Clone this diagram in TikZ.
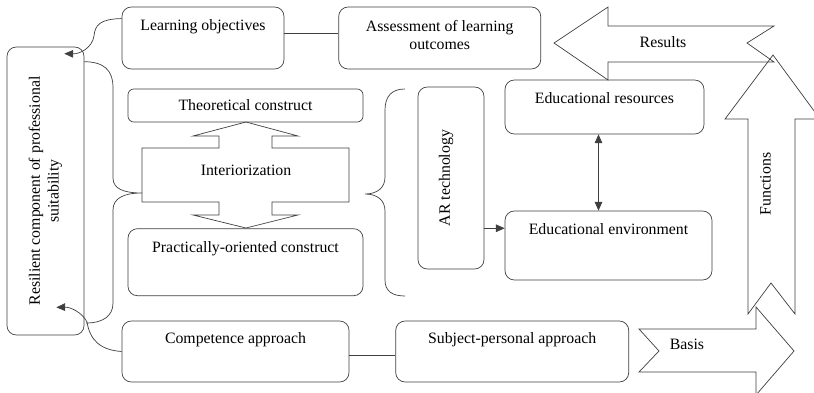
\documentclass[tikz,border=0pt]{standalone}
\usepackage{fontspec}
\setmainfont{Liberation Serif}
\usepackage{tikz}
\usetikzlibrary{arrows.meta, positioning, calc}
\definecolor{frame}{HTML}{3F3F3F}

\begin{document}
\begin{tikzpicture}[
  x=0.03cm, y=-0.03cm,
  every node/.style={font=\fontsize{13.5}{16}\selectfont},
  box/.style={draw=frame, line width=0.6pt, rounded corners=8pt, inner sep=0pt},
  txt/.style={inner sep=0pt, align=center},
  link/.style={draw=frame, line width=0.6pt},
  arr/.style={link, -{Triangle[length=7.5pt, width=6.5pt]}},
  dbl/.style={link, {Triangle[length=7.5pt, width=6.5pt]}-{Triangle[length=7.5pt, width=6.5pt]}},
  block/.style={draw=frame, line width=0.6pt}
]
  \useasboundingbox (0,0) rectangle (814,393);
  \clip (0,0) rectangle (814,393);

  % Left column
  \node[box, minimum width=2.31cm, minimum height=8.64cm] (resil) at (45.5,191) {};
  \node[txt, rotate=90] (resil-t) at (resil.center) {Resilient component of professional\\suitability};

  % Top row
  \node[box, minimum width=4.86cm, minimum height=1.86cm] (lobj) at (203,38) {};
  \node[box, minimum width=6.06cm, minimum height=1.86cm, right=1.62cm of lobj] (assess) {};
  \node[txt, below=0.39cm of lobj.north] (lobj-t) {Learning objectives};
  \node[txt, below=0.39cm of assess.north] (assess-t) {Assessment of learning\\outcomes};

  % Constructs and interiorization
  \node[box, rounded corners=5pt, minimum width=7.05cm, minimum height=0.99cm] (theo) at (245.5,105.5) {Theoretical construct};
  \node[box, minimum width=7.05cm, minimum height=2.01cm, below=3.18cm of theo] (prac) {};
  \node[txt, below=0.39cm of prac.north] (prac-t) {Practically-oriented construct};

  \draw[block] (142,148) -- (219,148) -- (219,136) -- (193,136) -- (246,122)
    -- (298,136) -- (272,136) -- (272,148) -- (349,148) -- (349,202)
    -- (272,202) -- (272,215) -- (298,215) -- (246,228) -- (193,215)
    -- (219,215) -- (219,202) -- (142,202) -- cycle;
  \node[txt] (intz) at (246,170) {Interiorization};

  % Braces
  \draw[link] ($(resil.north east)+(0,15)$) .. controls (104,62) and (113,70) .. (113,88)
    -- (113,178) .. controls (113,189) and (124,193) .. (142,193)
    .. controls (124,193) and (113,198) .. (113,210)
    -- (113,303) .. controls (113,316) and (103,323) .. (86,323);
  \draw[link] (405,89) .. controls (392,89) and (385,96) .. (385,110)
    -- (385,177) .. controls (385,188) and (377,194) .. (365,194)
    .. controls (377,194) and (385,200) .. (385,211)
    -- (385,280) .. controls (385,291) and (392,296) .. (405,296);

  % AR and educational blocks
  \node[box, minimum width=1.98cm, minimum height=5.46cm] (ar) at (451,178) {};
  \node[txt, rotate=90] (ar-t) at ($(ar.center)+(-5,0)$) {AR technology};
  \node[box, minimum width=5.97cm, minimum height=1.62cm] (eres) at (604.5,107) {};
  \node[txt, below=0.39cm of eres.north] (eres-t) {Educational resources};
  \node[box, minimum width=6.21cm, minimum height=2.07cm] (eenv) at (608.5,245.5) {};
  \node[txt, below=0.39cm of eenv.north] (eenv-t) {Educational environment};

  % Bottom row
  \node[box, minimum width=6.81cm, minimum height=1.83cm] (comp) at (235.5,351.5) {};
  \node[box, minimum width=6.99cm, minimum height=1.83cm, right=1.38cm of comp] (subj) {};
  \node[txt, below=0.36cm of comp.north] (comp-t) {Competence approach};
  \node[txt, below=0.36cm of subj.north] (subj-t) {Subject-personal approach};

  % Block arrows
  \draw[block] (554,43) -- (608,7) -- (608,26) -- (774,26) -- (747,43)
    -- (774,62) -- (608,62) -- (608,80) -- cycle;
  \node[txt] (res) at (663,42) {Results};
  \draw[block] (773,55) -- (820,119) -- (795,119) -- (795,314) -- (771,283)
    -- (748,314) -- (748,119) -- (725,119) -- cycle;
  \node[txt, rotate=90] (func) at (765.5,184) {Functions};
  \draw[block] (639,329) -- (756,329) -- (756,307) -- (794,351) -- (756,395)
    -- (756,372) -- (639,372) -- (659,351) -- cycle;
  \node[txt] (basis) at (687,344) {Basis};

  % Connectors
  \coordinate (lobj-out) at ($(lobj.north east)!0.42!(lobj.south east)$);
  \coordinate (lobj-in) at ($(lobj.north west)!0.19!(lobj.south west)$);
  \coordinate (comp-out) at ($(comp.north east)!0.56!(comp.south east)$);
  \coordinate (ar-out) at ($(ar.north east)!0.775!(ar.south east)$);
  \coordinate (eres-out) at ($(eres.south west)!0.47!(eres.south east)$);
  \coordinate (resil-top) at ($(resil.north east)+(-20,7)$);
  \coordinate (resil-bot) at ($(resil.south east)+(-28,-28)$);

  \draw[link] (lobj-out) -- (lobj-out -| assess.west);
  \draw[link] (comp-out) -- (comp-out -| subj.west);
  \draw[arr] (ar-out) -- (ar-out -| eenv.west);
  \draw[dbl] (eres-out) -- (eres-out |- eenv.north);
  \draw[arr] (lobj-in) .. controls (100,19) and (95,25) .. (94,36)
    .. controls (92,48) and (80,54) .. (resil-top);
  \draw[arr] (comp.west) .. controls (100,350) and (90,340) .. (87,322)
    .. controls (82,312) and (70,307) .. (resil-bot);
\end{tikzpicture}
\end{document}
